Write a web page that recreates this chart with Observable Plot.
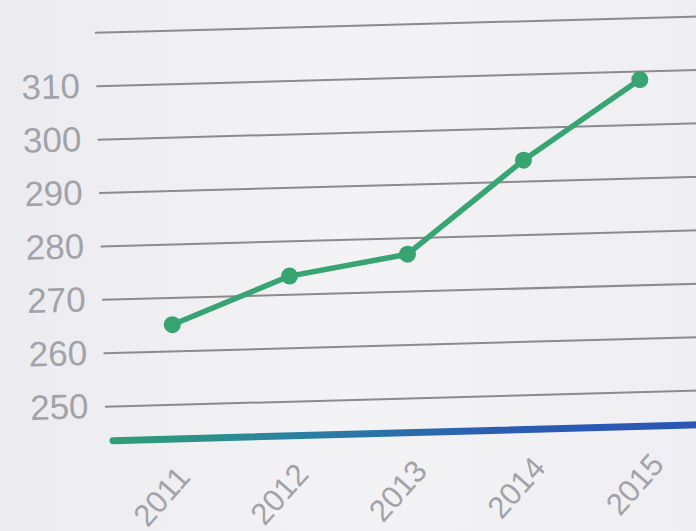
<!DOCTYPE html>
<html>
<head>
<meta charset="utf-8">
<script src="https://cdn.jsdelivr.net/npm/d3@7"></script>
<script src="https://cdn.jsdelivr.net/npm/@observablehq/plot@0.6"></script>
<style>
  html, body { margin: 0; padding: 0; width: 696px; height: 531px; overflow: hidden;
    background: linear-gradient(90deg, #ececf0 0%, #f3f3f6 50%, #efeff3 100%); }
  #chart { position: absolute; left: 0; top: 0; width: 800px; height: 531px; }
  #chart svg { max-width: none !important; width: 800px; height: 531px; transform: rotate(-1.55deg); transform-origin: 112px 406px; background: transparent; }
</style>
</head>
<body>
<div id="chart"></div>
<script>
const years = [2011, 2012, 2013, 2014, 2015];
const values = [265, 273.5, 277, 294, 308.5];
const gridValues = [250, 260, 270, 280, 290, 300, 310, 320];
const tickLabels = [250, 260, 270, 280, 290, 300, 310];
const baseline = 243.6;

const data = years.map((year, i) => ({year, value: values[i]}));

const x0 = 2010.418, pxPerYear = 118.5;

const plot = Plot.plot({
  width: 800,
  height: 531,
  marginLeft: 0, marginRight: 0, marginTop: 0, marginBottom: 0,
  x: {type: "linear", domain: [x0, x0 + 695 / pxPerYear], range: [105, 800], axis: null},
  y: {domain: [240, 325], range: [459.4, 5.3], axis: null},
  marks: [
    Plot.ruleY(gridValues, {y: d => d, x1: x0, x2: 2017, stroke: "#8a8a8f", strokeWidth: 2}),
    Plot.text(tickLabels, {x: x0, y: d => d, text: d => String(d), textAnchor: "end", dx: -17,
      fill: "#a2a2a8", fontSize: 35, fontFamily: "Liberation Sans, Arial, sans-serif"}),
    Plot.ruleY([baseline], {y: d => d, x1: x0 + 0.06, x2: 2017, stroke: "url(#axisGrad)", strokeWidth: 7, strokeLinecap: "round"}),
    Plot.line(data, {x: "year", y: "value", stroke: "#37a472", strokeWidth: 5.5, strokeLinejoin: "round"}),
    Plot.dot(data, {x: "year", y: "value", r: 8.5, fill: "#37a472"}),
    Plot.text(years, {x: d => d, y: 237.4, text: d => String(d), rotate: -47, textAnchor: "end", dx: 8,
      fill: "#a2a2a8", fontSize: 31, fontFamily: "Liberation Sans, Arial, sans-serif"})
  ]
});

plot.style.maxWidth = "none";
const svgSel = d3.select(plot);
const defs = svgSel.insert("defs", ":first-child");
const grad = defs.append("linearGradient").attr("id", "axisGrad")
  .attr("gradientUnits", "userSpaceOnUse").attr("x1", 112).attr("x2", 700).attr("y1", 0).attr("y2", 0);
grad.append("stop").attr("offset", "0%").attr("stop-color", "#2f9f74");
grad.append("stop").attr("offset", "30%").attr("stop-color", "#2b82a0");
grad.append("stop").attr("offset", "65%").attr("stop-color", "#2a5db2");
grad.append("stop").attr("offset", "100%").attr("stop-color", "#2a55b5");

document.getElementById("chart").appendChild(plot);
</script>
</body>
</html>
